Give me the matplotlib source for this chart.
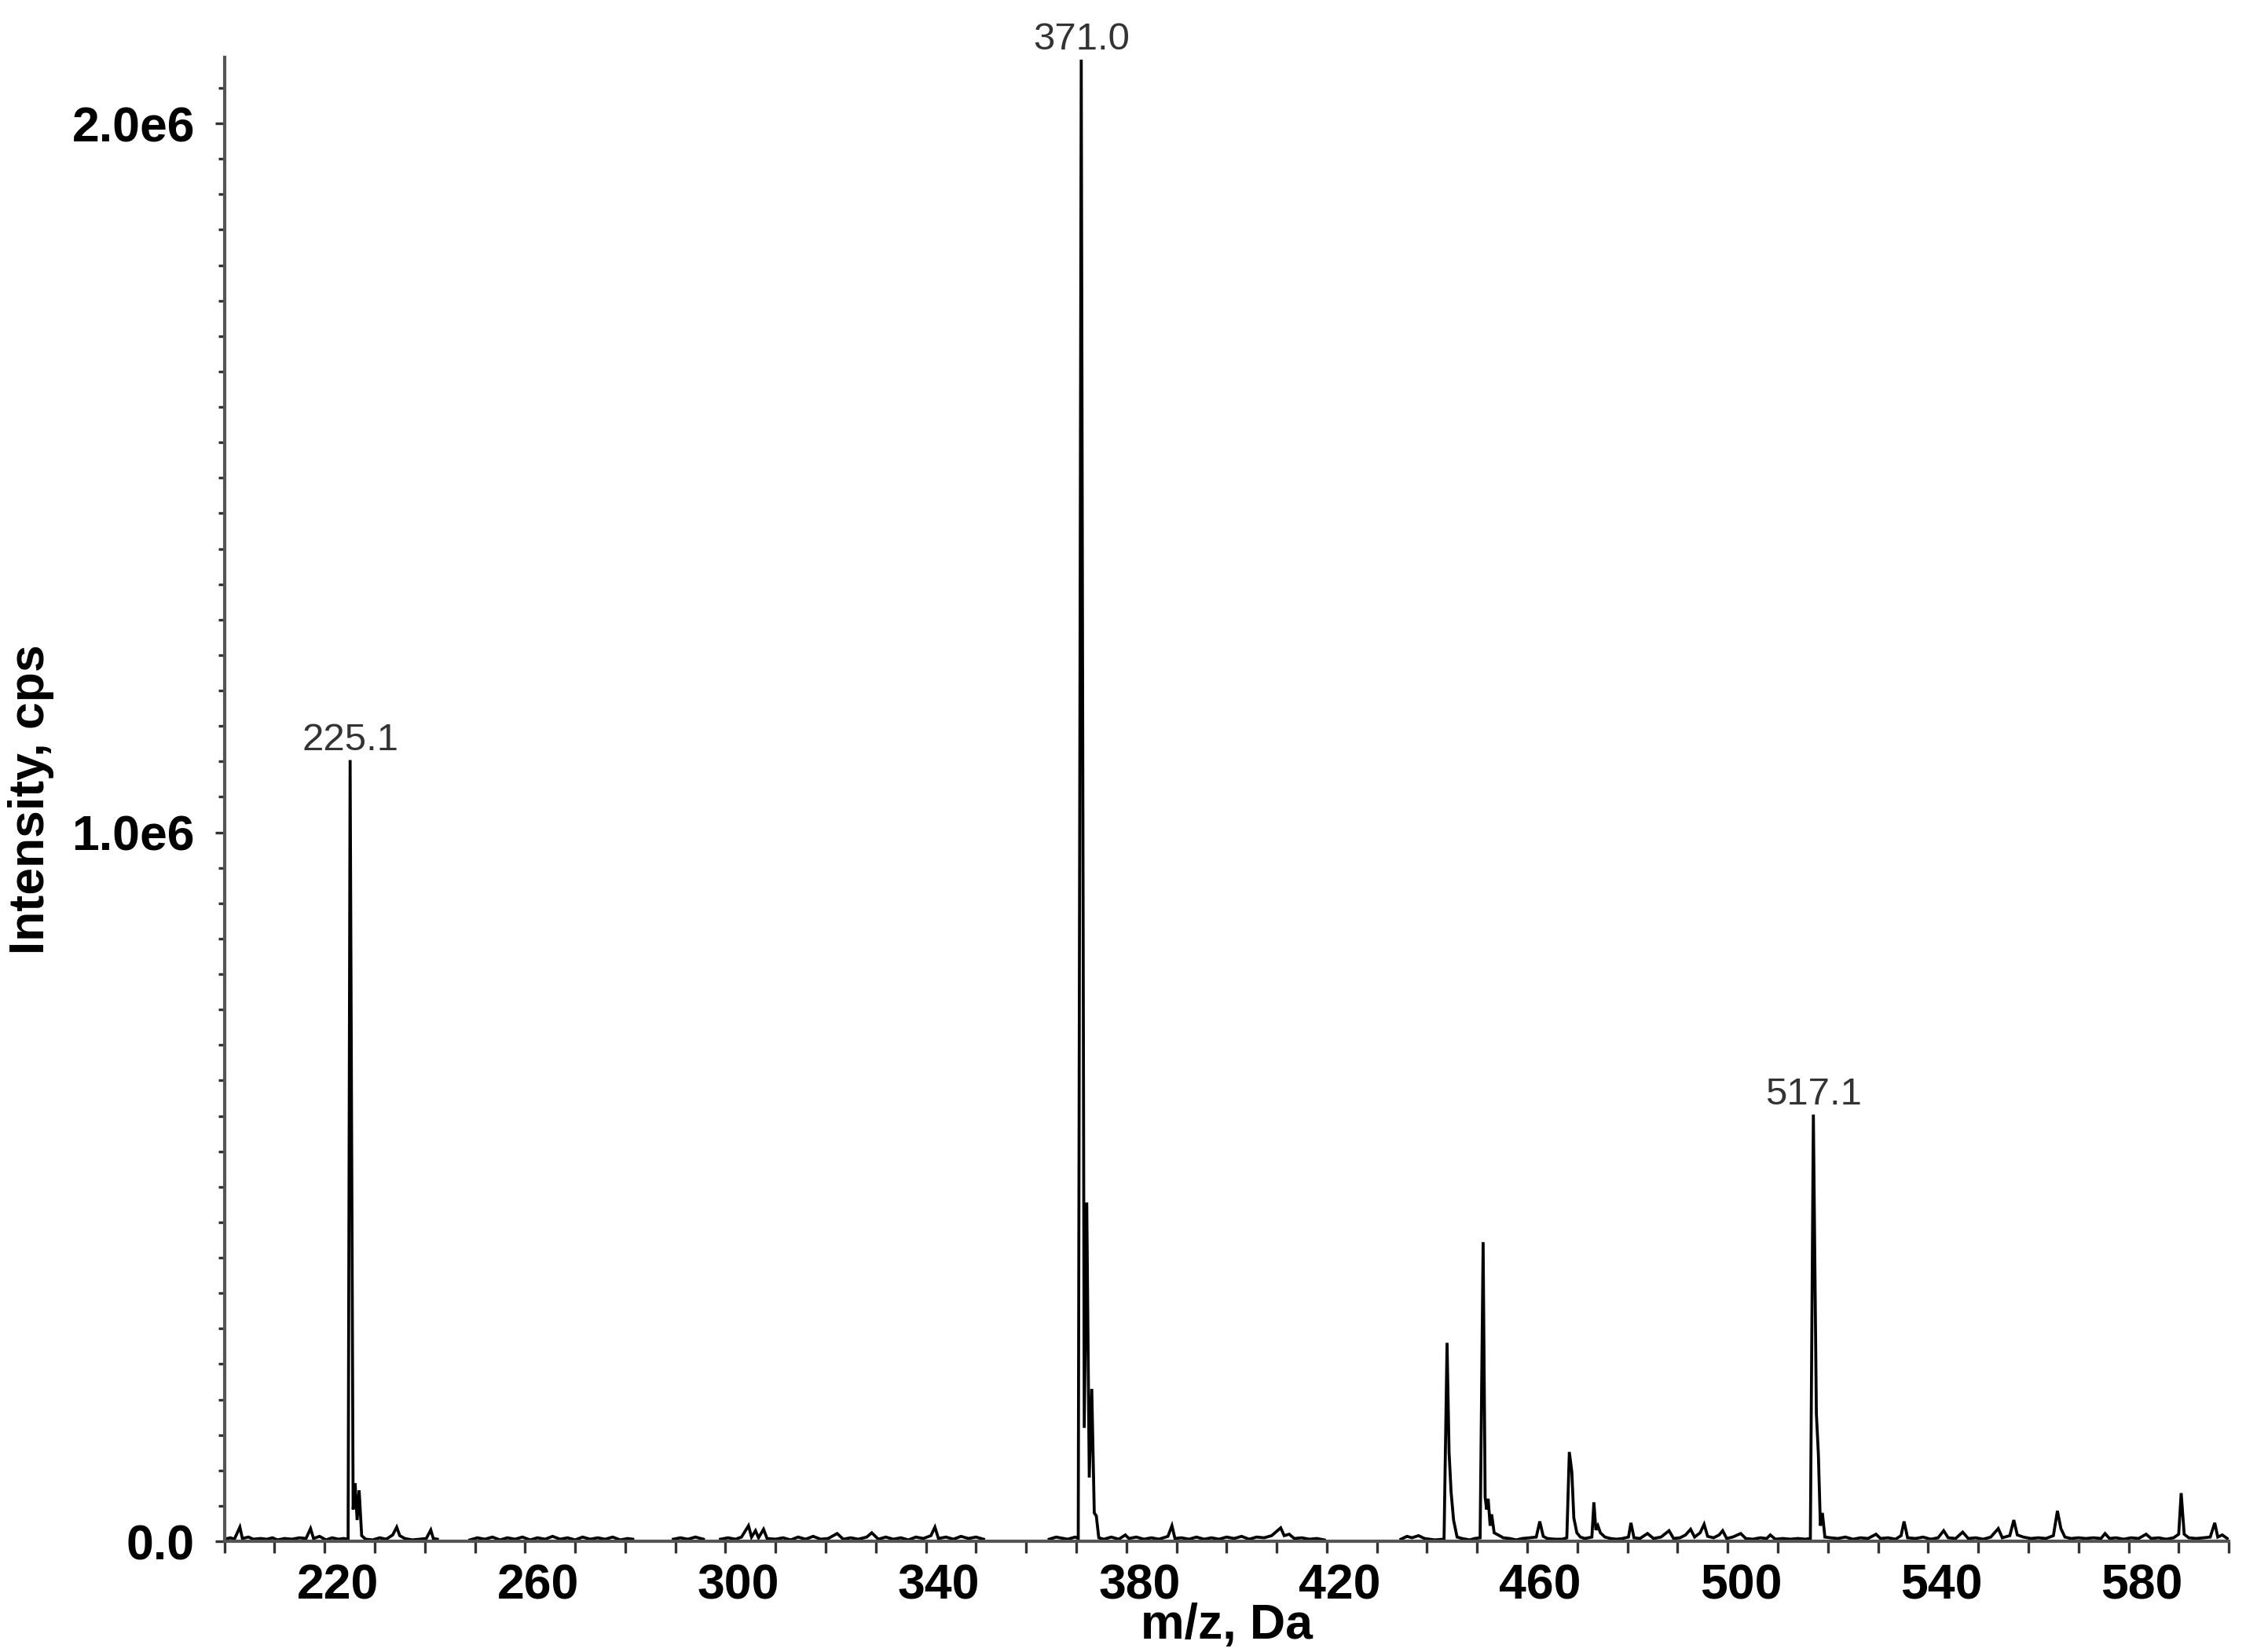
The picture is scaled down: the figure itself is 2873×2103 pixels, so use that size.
import numpy as np
import matplotlib
matplotlib.use("Agg")
import matplotlib.pyplot as plt
import matplotlib.transforms as mtransforms
from matplotlib.ticker import FixedLocator, MultipleLocator

plt.rcParams['font.family'] = ['Liberation Sans', 'DejaVu Sans']

# profile spectrum (m/z in Da, intensity in cps)
# each segment is a stretch of recorded signal; gaps between them are empty
seg1_mz = [200.0, 201.2, 202.0, 203.1, 203.6, 204.8, 205.8, 207.2, 208.5, 209.6,
           210.6, 212.0, 213.5, 215.0, 216.3, 217.2, 217.8, 219.0, 220.3, 221.5,
           222.8, 223.8, 224.7, 225.1, 225.7, 226.1, 226.5, 226.9, 227.4, 228.2,
           229.6, 231.0, 232.3, 233.6, 234.4, 235.0, 236.0, 237.5, 239.0, 240.3,
           241.2, 241.7, 242.5]
seg1_int = [3000, 5000, 3000, 20000, 4000, 6000, 3000, 4000, 3000, 5000,
            2000, 4000, 3000, 5000, 4000, 18000, 4000, 7000, 2000, 5000,
            3000, 4000, 3000, 1102000, 45000, 82000, 30000, 72000, 8000, 3000,
            2000, 5000, 3000, 9000, 20000, 8000, 4000, 2000, 3000, 4000,
            16000, 4000, 3000]

seg2_mz = [249.0, 250.5, 252.0, 253.5, 255.0, 256.5, 258.0, 259.5, 261.0, 262.5,
           264.0, 265.5, 267.0, 268.5, 270.0, 271.5, 273.0, 274.5, 276.0, 277.5,
           279.0, 280.5, 281.5]
seg2_int = [2000, 5000, 3000, 6000, 2000, 5000, 3000, 6000, 2000, 5000,
            3000, 7000, 3000, 5000, 2000, 6000, 3000, 5000, 3000, 6000,
            2000, 4000, 3000]

seg3_mz = [289.6, 291.0, 292.5, 294.0, 295.6]
seg3_int = [3000, 5000, 3000, 6000, 3000]

seg4_mz = [299.0, 300.5, 302.0, 303.2, 304.6, 305.2, 306.0, 306.6, 307.6, 308.3,
           310.0, 311.5, 313.0, 314.5, 316.0, 317.5, 319.0, 320.5, 322.3, 323.5,
           325.0, 326.5, 328.2, 329.2, 330.5, 332.0, 333.5, 335.0, 336.5, 338.0,
           339.5, 341.0, 341.8, 342.5, 344.0, 345.5, 347.0, 348.5, 350.0, 351.5]
seg4_int = [3000, 5000, 3000, 6000, 22000, 6000, 15000, 5000, 17000, 4000,
            3000, 5000, 2000, 6000, 3000, 7000, 3000, 4000, 11000, 3000,
            5000, 3000, 6000, 12000, 3000, 6000, 3000, 5000, 2000, 6000,
            4000, 8000, 20000, 4000, 6000, 3000, 7000, 4000, 6000, 3000]

seg5_mz = [364.6, 366.0, 367.5, 368.3, 369.8, 370.4, 371.0, 371.6, 372.1, 372.6,
           373.1, 373.6, 374.0, 374.5, 375.5, 377.0, 378.5, 379.8, 380.5, 382.0,
           383.5, 385.0, 386.5, 388.3, 389.1, 389.7, 391.0, 392.5, 394.0, 395.5,
           397.0, 398.5, 400.0, 401.5, 403.0, 404.5, 406.0, 407.5, 409.0, 410.8,
           411.5, 412.5, 413.5, 415.0, 416.5, 418.0, 419.5]
seg5_int = [3000, 6000, 4000, 3000, 6000, 4000, 2090000, 160000, 478000, 90000,
            215000, 40000, 36000, 5000, 3000, 6000, 3000, 9000, 4000, 6000,
            3000, 5000, 3000, 7000, 22000, 4000, 5000, 3000, 6000, 3000,
            5000, 3000, 6000, 4000, 7000, 3000, 6000, 5000, 8000, 19000,
            8000, 10000, 4000, 5000, 3000, 4000, 2000]

seg6_mz = [434.8, 436.0, 437.0, 438.3, 439.5, 440.5, 441.5, 443.4, 444.0, 444.4,
           444.8, 445.3, 446.0, 447.0, 448.5, 449.5, 450.6, 451.2, 451.6, 451.9,
           452.2, 452.6, 452.9, 453.4, 454.2, 455.2, 456.5, 457.8, 459.0, 460.5,
           461.8, 462.5, 463.2, 464.0, 465.5, 467.0, 467.9, 468.4, 468.9, 469.3,
           469.9, 470.6, 471.5, 472.9, 473.3, 473.7, 474.1, 474.6, 475.5, 476.6,
           477.8, 479.0, 480.2, 480.7, 481.3, 482.5, 484.0, 485.2, 486.7, 488.3,
           489.2, 490.5, 491.6, 492.6, 493.4, 494.5, 495.3, 496.0, 497.2, 498.3,
           499.0, 499.8, 501.0, 502.6, 503.6, 505.0, 506.5, 507.8, 508.5, 509.5,
           511.0, 512.5, 514.0, 515.5, 516.5, 517.1, 517.7, 518.1, 518.5, 518.9,
           519.4, 520.5, 522.0, 523.5, 525.0, 526.5, 528.0, 529.6, 530.5, 532.0,
           533.5, 534.6, 535.2, 535.9, 537.5, 539.0, 540.5, 542.0, 543.1, 544.0,
           545.5, 546.9, 548.0, 549.5, 551.0, 552.5, 554.0, 554.8, 556.3, 557.1,
           557.8, 559.0, 560.5, 562.0, 563.5, 565.0, 565.8, 566.5, 567.3, 568.5,
           570.0, 571.5, 573.0, 574.5, 575.3, 576.2, 577.5, 579.0, 580.5, 582.0,
           583.5, 584.5, 586.0, 587.5, 589.0, 590.0, 590.5, 591.1, 592.0, 593.5,
           595.0, 596.3, 597.2, 597.8, 598.7, 599.7]
seg6_int = [3000, 7000, 5000, 8000, 4000, 3000, 2000, 3000, 280000, 126000,
            70000, 30000, 6000, 4000, 2000, 4000, 5000, 422000, 62000, 45000,
            60000, 22000, 38000, 12000, 9000, 5000, 4000, 2000, 4000, 5000,
            6000, 28000, 7000, 4000, 3000, 3000, 5000, 126000, 98000, 33000,
            12000, 6000, 4000, 6000, 55000, 16000, 22000, 12000, 6000, 4000,
            3000, 4000, 6000, 26000, 5000, 4000, 11000, 4000, 6000, 15000,
            4000, 5000, 9000, 17000, 6000, 12000, 24000, 7000, 5000, 9000,
            15000, 4000, 6000, 11000, 4000, 3000, 5000, 4000, 9000, 3000,
            4000, 3000, 4000, 3000, 4000, 602000, 180000, 123000, 22000, 40000,
            6000, 5000, 4000, 6000, 3000, 5000, 4000, 10000, 4000, 5000,
            3000, 8000, 28000, 5000, 4000, 6000, 3000, 5000, 15000, 5000,
            4000, 13000, 4000, 5000, 3000, 6000, 18000, 5000, 8000, 30000,
            9000, 6000, 4000, 5000, 4000, 8000, 43000, 18000, 6000, 4000,
            5000, 4000, 5000, 4000, 11000, 4000, 5000, 3000, 5000, 4000,
            10000, 4000, 5000, 3000, 5000, 10000, 68000, 10000, 5000, 4000,
            5000, 6000, 26000, 6000, 9000, 4000]

segments = [(seg1_mz, seg1_int), (seg2_mz, seg2_int), (seg3_mz, seg3_int),
            (seg4_mz, seg4_int), (seg5_mz, seg5_int), (seg6_mz, seg6_int)]

# labelled peaks
peak_mz = [225.1, 371.0, 517.1]
peak_int = [1102000, 2090000, 602000]
peak_text = ['225.1', '371.0', '517.1']

xtick_pos = [220, 260, 300, 340, 380, 420, 460, 500, 540, 580]
xtick_labels = ['220', '260', '300', '340', '380', '420', '460', '500', '540', '580']
ytick_pos = [0, 1000000, 2000000]
ytick_labels = ['0.0', '1.0e6', '2.0e6']

fig = plt.figure(figsize=(2873 / 300, 2103 / 300), dpi=300)
ax = fig.add_axes([0.0994, 0.0670, 0.8881, 0.8982])

for mz, inten in segments:
    ax.plot(mz, inten, color='black', lw=0.9, solid_joinstyle='miter')

for m, h, t in zip(peak_mz, peak_int, peak_text):
    ax.annotate(t, xy=(m, h), xytext=(0, 3), textcoords='offset points',
                ha='center', va='baseline', fontsize=11.8, color='#333333',
                annotation_clip=False)

ax.set_xlim(200, 600)
ax.set_ylim(0, 2093000)

ax.spines['top'].set_visible(False)
ax.spines['right'].set_visible(False)
for s in ('left', 'bottom'):
    ax.spines[s].set_color('#555555')
    ax.spines[s].set_linewidth(1.0)

ax.xaxis.set_major_locator(FixedLocator(xtick_pos))
ax.set_xticklabels(xtick_labels)
ax.xaxis.set_minor_locator(MultipleLocator(10))
ax.yaxis.set_major_locator(FixedLocator(ytick_pos))
ax.set_yticklabels(ytick_labels)
ax.yaxis.set_minor_locator(MultipleLocator(50000))

ax.tick_params(axis='x', which='both', direction='out', length=3.5, width=0.8,
               color='#333333', pad=3)
ax.tick_params(axis='y', which='major', direction='out', length=3, width=0.8,
               color='#333333', pad=6)
ax.tick_params(axis='y', which='minor', direction='out', length=2, width=0.8,
               color='#333333')
for lab in ax.get_xticklabels() + ax.get_yticklabels():
    lab.set_fontsize(15)
    lab.set_fontweight('bold')

# tick labels on the x axis sit a little right of their ticks in the original
shift = mtransforms.ScaledTranslation(4 / 72, 0, fig.dpi_scale_trans)
for lab in ax.get_xticklabels():
    lab.set_transform(lab.get_transform() + shift)

ax.set_xlabel('m/z, Da', fontsize=15, fontweight='bold')
ax.set_ylabel('Intensity, cps', fontsize=15, fontweight='bold')
ax.xaxis.set_label_coords(0.5, -0.041)
ax.yaxis.set_label_coords(-0.085, 0.5)

fig.savefig('out.png', dpi=300)
